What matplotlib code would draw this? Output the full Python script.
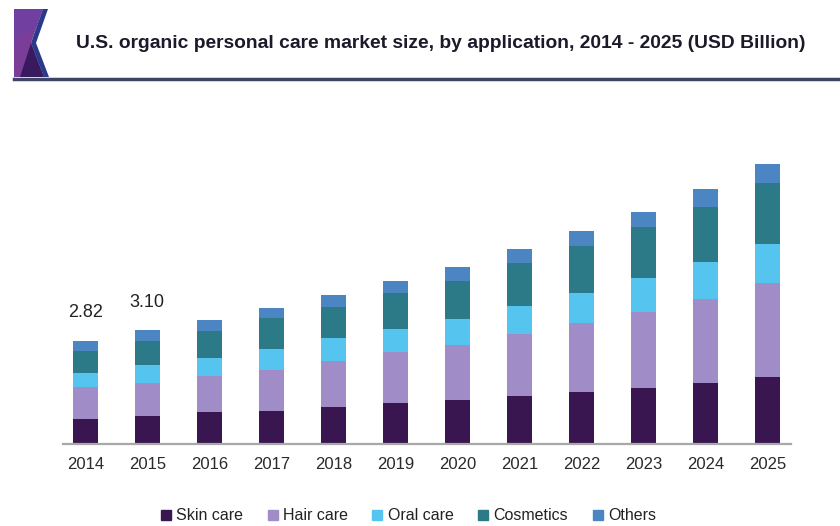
import matplotlib
matplotlib.use("Agg")
import matplotlib.pyplot as plt
from matplotlib.patches import Polygon
from matplotlib.lines import Line2D
import numpy as np

plt.rcParams['font.family'] = ['Liberation Sans', 'DejaVu Sans']

years = ["2014", "2015", "2016", "2017", "2018", "2019", "2020", "2021", "2022", "2023", "2024", "2025"]
series_names = ["Skin care", "Hair care", "Oral care", "Cosmetics", "Others"]
skin_care = [0.68, 0.74, 0.85, 0.90, 0.99, 1.10, 1.18, 1.29, 1.40, 1.53, 1.67, 1.81]
hair_care = [0.88, 0.93, 1.01, 1.12, 1.26, 1.40, 1.53, 1.70, 1.89, 2.08, 2.30, 2.58]
oral_care = [0.38, 0.47, 0.49, 0.58, 0.63, 0.63, 0.71, 0.77, 0.82, 0.93, 0.99, 1.07]
cosmetics = [0.60, 0.66, 0.74, 0.85, 0.85, 0.99, 1.04, 1.18, 1.29, 1.40, 1.53, 1.67]
others = [0.28, 0.30, 0.30, 0.25, 0.33, 0.33, 0.38, 0.38, 0.41, 0.41, 0.49, 0.52]
labeled_totals = ["2.82", "3.10"]
colors = ["#3A1650", "#A08CC6", "#55C5EF", "#2C7A88", "#4C86C2"]
title = "U.S. organic personal care market size, by application, 2014 - 2025 (USD Billion)"

W, H = 840, 526
fig = plt.figure(figsize=(W / 100, H / 100), dpi=100)

def fx(x):
    return x / W

def fy(y):
    return 1 - y / H

ax = fig.add_axes([fx(63), fy(443.5), fx(791) - fx(63), fy(150) - fy(443.5)])
x = np.arange(len(years))
series = [skin_care, hair_care, oral_care, cosmetics, others]
bottom = np.zeros(len(years))
for name, vals, c in zip(series_names, series, colors):
    ax.bar(x, vals, width=0.40, bottom=bottom, color=c, label=name, zorder=2)
    bottom = bottom + np.array(vals)

for i, lab in enumerate(labeled_totals):
    ax.annotate(lab, (x[i], bottom[i]), xytext=(0, 20), textcoords="offset points",
                ha="center", va="center", fontsize=13, color="#222222")

ax.set_xlim(-0.36, 11.38)
ax.set_ylim(0, (443.5 - 150) / 36.5)
ax.set_xticks(x)
ax.set_xticklabels(years, fontsize=12, color="#2a2a2a")
ax.tick_params(axis="x", length=0, pad=10)
ax.set_yticks([])
for s in ["top", "left", "right"]:
    ax.spines[s].set_visible(False)
ax.spines["bottom"].set_color("#A8A8A8")
ax.spines["bottom"].set_linewidth(1.6)

# header graphic
tf = fig.transFigure
fig.add_artist(Polygon([(fx(14), fy(9)), (fx(43), fy(9)), (fx(31), fy(43)), (fx(44), fy(77)), (fx(14), fy(77))],
                       closed=True, facecolor="#7A3D98", edgecolor="none", transform=tf))
fig.add_artist(Polygon([(fx(14), fy(9)), (fx(43), fy(9)), (fx(37), fy(26)), (fx(14), fy(40))],
                       closed=True, facecolor="#6A42A6", edgecolor="none", alpha=0.6, transform=tf))
fig.add_artist(Polygon([(fx(31), fy(43)), (fx(44), fy(77)), (fx(20), fy(77))],
                       closed=True, facecolor="#3A1A5E", edgecolor="none", transform=tf))
fig.add_artist(Polygon([(fx(43), fy(9)), (fx(48), fy(9)), (fx(36), fy(43)), (fx(49), fy(77)),
                        (fx(44), fy(77)), (fx(31), fy(43))],
                       closed=True, facecolor="#2A3A8A", edgecolor="none", transform=tf))
fig.add_artist(Line2D([fx(14), fx(840)], [fy(78.5), fy(78.5)], color="#3C4468", linewidth=2.5,
                      transform=tf))

t = fig.text(fx(76), fy(43), title, fontsize=15.5, fontweight="bold", color="#1a1a2a",
             ha="left", va="center")
fig.canvas.draw()
r = fig.canvas.get_renderer()
wpx = t.get_window_extent(r).width
t.set_fontsize(15.5 * 732 / wpx)

handles = [Line2D([], [], marker="s", linestyle="none", markersize=7, color=c) for c in colors]
fig.legend(handles, series_names, loc="center", bbox_to_anchor=(fx(408.5), fy(516)), ncol=5,
           frameon=False, fontsize=11.5, handlelength=0.6, handletextpad=0.35, columnspacing=1.55,
           labelcolor="#222222")

fig.savefig("out.png", dpi=100)
